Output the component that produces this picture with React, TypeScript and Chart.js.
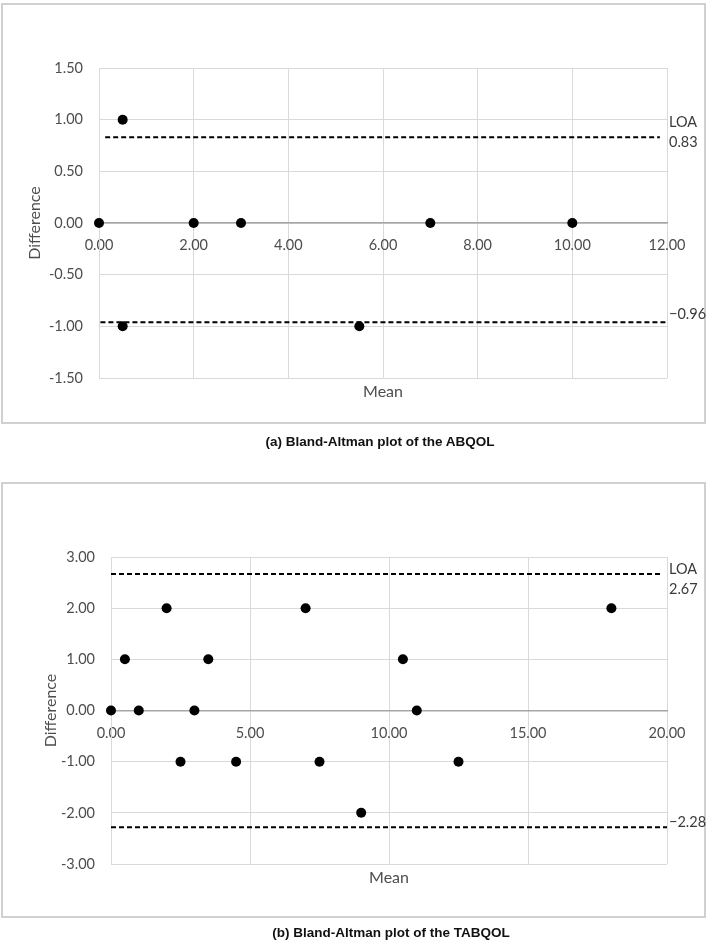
import { useEffect, useRef } from "react";
import { Chart, registerables } from "chart.js";

Chart.register(...registerables);

// ABQOL: mean of the two administrations vs. their difference
const abqolMean = [0, 0.5, 0.5, 2, 3, 5.5, 7, 10];
const abqolDiff = [0, 1, -1, 0, 0, -1, 0, 0];
const abqolLoa = [0.83, -0.96]; // upper, lower limits of agreement
const abqolUpperSpan = [0.13, 11.85];
const abqolLowerSpan = [0.03, 12];
const abqolXRange = [0, 12, 2]; // min, max, step
const abqolYRange = [-1.5, 1.5, 0.5];

// TABQOL
const tabqolMean = [0, 0.5, 1, 2, 2.5, 3, 3.5, 4.5, 7, 7.5, 9, 10.5, 11, 12.5, 18];
const tabqolDiff = [0, 1, 0, 2, -1, 0, 1, -1, 2, -1, -2, 1, 0, -1, 2];
const tabqolLoa = [2.67, -2.28];
const tabqolUpperSpan = [0, 19.85];
const tabqolLowerSpan = [0, 20];
const tabqolXRange = [0, 20, 5];
const tabqolYRange = [-3, 3, 1];

const FONT = "Lato, 'Open Sans', sans-serif";
const TEXT = "#4d4d4d";
const GRID = "#d9d9d9";

const fmtLoa = (v: number) => (v < 0 ? "\u2212" + Math.abs(v).toFixed(2) : v.toFixed(2));

const loaLabelPlugin = {
  id: "loaLabels",
  afterDatasetsDraw(chart: any, _args: any, opts: any) {
    const { ctx, chartArea, scales } = chart;
    ctx.save();
    ctx.font = `14.5px ${FONT}`;
    ctx.fillStyle = "#3a3a3a";
    ctx.textAlign = "left";
    ctx.textBaseline = "middle";
    for (const item of opts.items || []) {
      const y = scales.y.getPixelForValue(item.value) + item.dy;
      ctx.fillText(item.text, chartArea.right + 2, y);
    }
    ctx.restore();
  },
};

type Spec = {
  mean: number[];
  diff: number[];
  loa: number[];
  upperSpan: number[];
  lowerSpan: number[];
  xRange: number[];
  yRange: number[];
  pad: { left: number; top: number; right: number; bottom: number };
  yWidth: number;
  labelOffsets: number[]; // LOA word, upper value, lower value
};

function buildConfig(s: Spec): any {
  const dashed = (span: number[], v: number) => ({
    data: [
      { x: span[0], y: v },
      { x: span[1], y: v },
    ],
    showLine: true,
    borderColor: "#000",
    borderWidth: 2,
    borderDash: [5, 3],
    pointRadius: 0,
    clip: false,
    order: 0,
    xAxisID: "x",
    yAxisID: "y",
  });
  return {
    type: "scatter",
    data: {
      datasets: [
        dashed(s.upperSpan, s.loa[0]),
        dashed(s.lowerSpan, s.loa[1]),
        {
          data: s.mean.map((m, i) => ({ x: m, y: s.diff[i] })),
          backgroundColor: "#000",
          borderWidth: 0,
          pointRadius: 5,
          clip: false,
          order: 1,
          xAxisID: "x",
          yAxisID: "y",
        },
      ],
    },
    plugins: [loaLabelPlugin],
    options: {
      animation: false,
      responsive: false,
      events: [],
      layout: { padding: s.pad },
      plugins: {
        legend: { display: false },
        tooltip: { enabled: false },
        loaLabels: {
          items: [
            { text: "LOA", value: s.loa[0], dy: s.labelOffsets[0] },
            { text: fmtLoa(s.loa[0]), value: s.loa[0], dy: s.labelOffsets[1] },
            { text: fmtLoa(s.loa[1]), value: s.loa[1], dy: s.labelOffsets[2] },
          ],
        },
      },
      scales: {
        x: {
          type: "linear",
          position: { y: 0 },
          min: s.xRange[0],
          max: s.xRange[1],
          ticks: {
            stepSize: s.xRange[2],
            callback: (v: number) => Number(v).toFixed(2),
            padding: 14,
            color: TEXT,
            font: { family: FONT, size: 14.5 },
            maxRotation: 0,
            autoSkip: false,
          },
          grid: { color: GRID, lineWidth: 1, drawTicks: false },
          border: { color: "#a6a6a6", width: 1.5 },
        },
        y: {
          type: "linear",
          position: "left",
          min: s.yRange[0],
          max: s.yRange[1],
          ticks: {
            stepSize: s.yRange[2],
            callback: (v: number) => Number(v).toFixed(2),
            padding: 16,
            color: TEXT,
            font: { family: FONT, size: 14.5 },
          },
          grid: { color: GRID, lineWidth: 1, drawTicks: false },
          border: { color: GRID, width: 1 },
          title: {
            display: true,
            text: "Difference",
            color: TEXT,
            font: { family: FONT, size: 16 },
            padding: { top: 4, bottom: 4 },
          },
          afterFit: (scale: any) => {
            scale.width = s.yWidth;
          },
        },
        x2: {
          type: "linear",
          position: "bottom",
          min: s.xRange[0],
          max: s.xRange[1],
          grid: { display: false, drawTicks: false },
          border: { display: false },
          ticks: { display: false },
          title: {
            display: true,
            text: "Mean",
            color: TEXT,
            font: { family: FONT, size: 16 },
            padding: { top: 4.4, bottom: 0 },
          },
        },
      },
    },
  };
}

function BlandAltman({ spec, top, height }: { spec: Spec; top: number; height: number }) {
  const ref = useRef<HTMLCanvasElement>(null);
  useEffect(() => {
    if (!ref.current) return;
    const chart = new Chart(ref.current, buildConfig(spec));
    return () => chart.destroy();
  }, [spec]);
  return (
    <canvas
      ref={ref}
      width={709}
      height={height}
      style={{ position: "absolute", left: 0, top, width: 709, height, display: "block" }}
    />
  );
}

const abqolSpec: Spec = {
  mean: abqolMean,
  diff: abqolDiff,
  loa: abqolLoa,
  upperSpan: abqolUpperSpan,
  lowerSpan: abqolLowerSpan,
  xRange: abqolXRange,
  yRange: abqolYRange,
  pad: { left: 21.4, top: 68, right: 42, bottom: 58.4 },
  yWidth: 77.6,
  labelOffsets: [-15, 5, -8],
};

const tabqolSpec: Spec = {
  mean: tabqolMean,
  diff: tabqolDiff,
  loa: tabqolLoa,
  upperSpan: tabqolUpperSpan,
  lowerSpan: tabqolLowerSpan,
  xRange: tabqolXRange,
  yRange: tabqolYRange,
  pad: { left: 37.4, top: 97, right: 42, bottom: 54.4 },
  yWidth: 73.6,
  labelOffsets: [-5, 15, -5],
};

const frame = (top: number, height: number): any => ({
  position: "absolute",
  left: 1,
  top,
  width: 705,
  height,
  border: "2px solid #d0d0d0",
  boxSizing: "border-box",
});

const caption = (cx: number, top: number): any => ({
  position: "absolute",
  left: cx,
  top,
  transform: "translateX(-50%)",
  whiteSpace: "nowrap",
  font: "bold 13.5px 'Liberation Sans', Arial, sans-serif",
  lineHeight: "16px",
  color: "#111",
});

export default function App() {
  return (
    <div style={{ position: "absolute", left: 0, top: 0, width: 709, height: 942, background: "#fff" }}>
      <div style={frame(3, 421)} />
      <div style={frame(482, 436)} />
      <BlandAltman spec={abqolSpec} top={0} height={460} />
      <BlandAltman spec={tabqolSpec} top={460} height={482} />
      <div style={caption(380, 434)}>(a) Bland-Altman plot of the ABQOL</div>
      <div style={caption(391, 925)}>(b) Bland-Altman plot of the TABQOL</div>
    </div>
  );
}
